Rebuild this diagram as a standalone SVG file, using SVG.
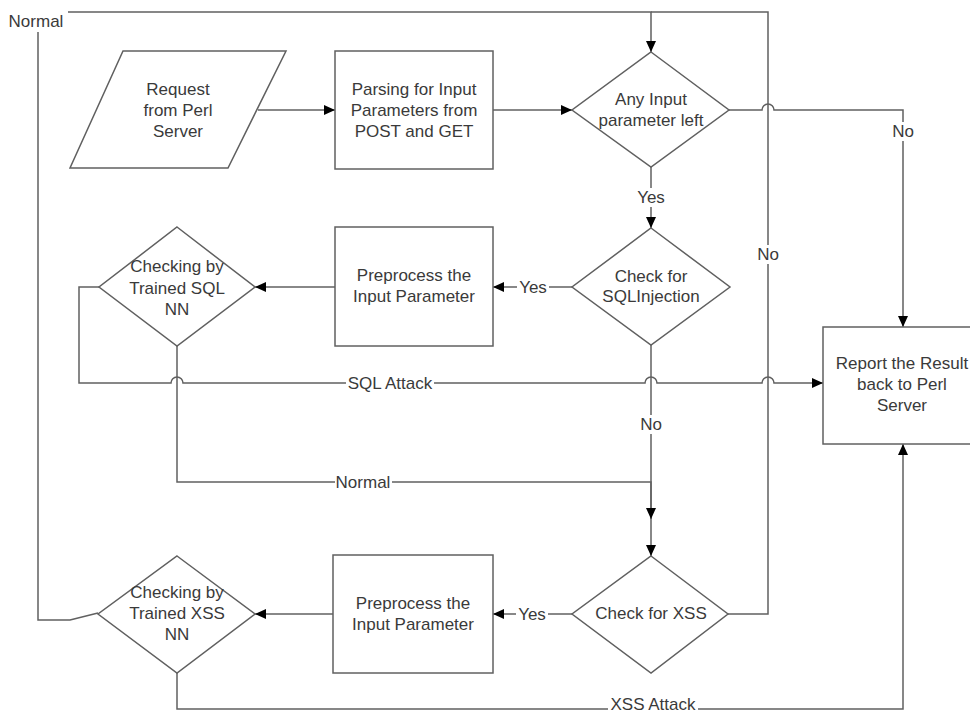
<svg xmlns="http://www.w3.org/2000/svg" width="970" height="713" viewBox="0 0 970 713">
<defs>
<marker id="arr" markerUnits="userSpaceOnUse" markerWidth="11" markerHeight="10" refX="11" refY="5" orient="auto">
<path d="M0,0 L11,5 L0,10 z" fill="#000"/>
</marker>
<style>
.shape{fill:#fff;stroke:#606060;stroke-width:1.5}
.conn{fill:none;stroke:#606060;stroke-width:1.5}
.t{font-family:"Liberation Sans",Arial,sans-serif;font-size:17px;fill:#3a3a3a;text-anchor:middle;dominant-baseline:central}
.bg{fill:#fff}
</style>
</defs>
<rect width="970" height="713" fill="#fff"/>
<g id="connectors">
<path class="conn" d="M258,110 H335" marker-end="url(#arr)"/>
<path class="conn" d="M493,110 H572" marker-end="url(#arr)"/>
<path class="conn" d="M729,110 H762 A6,6 0 0 1 774,110 H903 V327" marker-end="url(#arr)"/>
<path class="conn" d="M651,167 V228" marker-end="url(#arr)"/>
<path class="conn" d="M572,287 H493" marker-end="url(#arr)"/>
<path class="conn" d="M335,287 H255" marker-end="url(#arr)"/>
<path class="conn" d="M99,287 H79 V383 H171 A6,6 0 0 1 183,383 H645 A6,6 0 0 1 657,383 H762 A6,6 0 0 1 774,383 H823" marker-end="url(#arr)"/>
<path class="conn" d="M651,345 V556" marker-end="url(#arr)"/>
<path class="conn" d="M177,346 V482 H651 V519" marker-end="url(#arr)"/>
<path class="conn" d="M572,614 H493" marker-end="url(#arr)"/>
<path class="conn" d="M333,614 H255" marker-end="url(#arr)"/>
<path class="conn" d="M728,614 H768 V12 H651"/>
<path class="conn" d="M98,613 L70,620 H38 V12 H651 V52" marker-end="url(#arr)"/>
<path class="conn" d="M177,673 V709 H903 V444" marker-end="url(#arr)"/>
<rect class="bg" x="6" y="6" width="62" height="26"/>
<text class="t" x="36" y="21">Normal</text>
<rect class="bg" x="890" y="122" width="26" height="19"/>
<text class="t" x="903" y="131">No</text>
<rect class="bg" x="635" y="188" width="32" height="19"/>
<text class="t" x="651" y="197">Yes</text>
<rect class="bg" x="755" y="245" width="26" height="19"/>
<text class="t" x="768" y="254">No</text>
<rect class="bg" x="517" y="278" width="32" height="19"/>
<text class="t" x="533" y="287">Yes</text>
<rect class="bg" x="346" y="374" width="88" height="19"/>
<text class="t" x="390" y="383">SQL Attack</text>
<rect class="bg" x="638" y="415" width="26" height="19"/>
<text class="t" x="651" y="424">No</text>
<rect class="bg" x="335" y="473" width="57" height="19"/>
<text class="t" x="363" y="482">Normal</text>
<rect class="bg" x="516" y="605" width="32" height="19"/>
<text class="t" x="532" y="614">Yes</text>
<rect class="bg" x="608" y="699" width="90" height="14"/>
<text class="t" x="653" y="704">XSS Attack</text>
</g>
<g id="request">
<polygon class="shape" points="123,51 286,51 228,168 70,168"/>
<text class="t" x="178" y="89">Request</text>
<text class="t" x="178" y="110">from Perl</text>
<text class="t" x="178" y="131">Server</text>
</g>
<g id="parsing">
<rect class="shape" x="335" y="51" width="158" height="118"/>
<text class="t" x="414" y="89">Parsing for Input</text>
<text class="t" x="414" y="110">Parameters from</text>
<text class="t" x="414" y="131">POST and GET</text>
</g>
<g id="any-input">
<polygon class="shape" points="651,52 729,110 651,167 572,110"/>
<text class="t" x="651" y="99">Any Input</text>
<text class="t" x="651" y="120">parameter left</text>
</g>
<g id="check-sql">
<polygon class="shape" points="651,228 730,287 651,345 572,287"/>
<text class="t" x="651" y="276">Check for</text>
<text class="t" x="651" y="296">SQLInjection</text>
</g>
<g id="preprocess-sql">
<rect class="shape" x="335" y="227" width="158" height="119"/>
<text class="t" x="414" y="275">Preprocess the</text>
<text class="t" x="414" y="296">Input Parameter</text>
</g>
<g id="nn-sql">
<polygon class="shape" points="177,227 255,287 177,346 99,287"/>
<text class="t" x="177" y="266">Checking by</text>
<text class="t" x="177" y="288">Trained SQL</text>
<text class="t" x="177" y="309">NN</text>
</g>
<g id="report">
<rect class="shape" x="823" y="327" width="160" height="117"/>
<text class="t" x="902" y="363">Report the Result</text>
<text class="t" x="902" y="384">back to Perl</text>
<text class="t" x="902" y="405">Server</text>
</g>
<g id="check-xss">
<polygon class="shape" points="651,556 728,614 651,673 572,614"/>
<text class="t" x="651" y="613">Check for XSS</text>
</g>
<g id="preprocess-xss">
<rect class="shape" x="333" y="555" width="160" height="118"/>
<text class="t" x="413" y="603">Preprocess the</text>
<text class="t" x="413" y="624">Input Parameter</text>
</g>
<g id="nn-xss">
<polygon class="shape" points="177,556 255,614 177,673 98,614"/>
<text class="t" x="177" y="592">Checking by</text>
<text class="t" x="177" y="613">Trained XSS</text>
<text class="t" x="177" y="634">NN</text>
</g>
</svg>
